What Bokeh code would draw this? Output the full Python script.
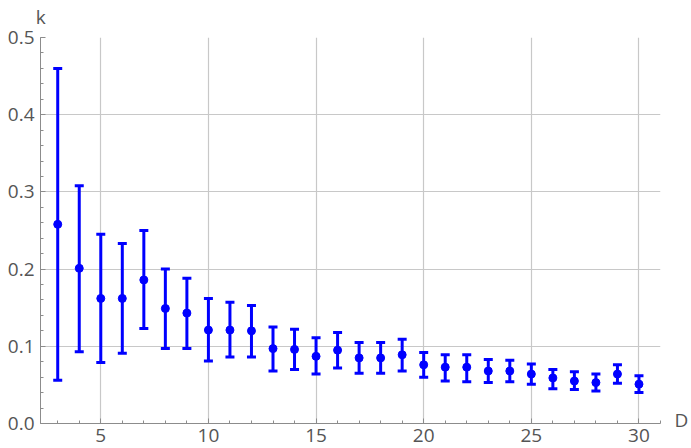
from bokeh.plotting import figure
from bokeh.models import (ColumnDataSource, Whisker, TeeHead, Range1d,
                          LinearAxis, FixedTicker, SingleIntervalTicker,
                          PrintfTickFormatter)
from bokeh.embed import file_html
from bokeh.resources import INLINE

# Dimension D and fitted k with lower / upper error bounds
D = list(range(3, 31))
k = [0.258, 0.201, 0.162, 0.162, 0.186, 0.149, 0.143, 0.121, 0.121, 0.120,
     0.097, 0.096, 0.087, 0.095, 0.085, 0.085, 0.089, 0.076, 0.073, 0.073,
     0.068, 0.068, 0.064, 0.059, 0.055, 0.053, 0.064, 0.051]
k_low = [0.056, 0.093, 0.079, 0.091, 0.123, 0.097, 0.097, 0.081, 0.086, 0.086,
         0.068, 0.070, 0.064, 0.072, 0.065, 0.065, 0.068, 0.060, 0.055, 0.054,
         0.053, 0.054, 0.051, 0.045, 0.044, 0.042, 0.052, 0.040]
k_high = [0.460, 0.308, 0.245, 0.233, 0.250, 0.200, 0.188, 0.162, 0.157, 0.153,
          0.125, 0.122, 0.111, 0.118, 0.105, 0.105, 0.109, 0.092, 0.089, 0.089,
          0.083, 0.082, 0.077, 0.070, 0.067, 0.064, 0.076, 0.062]

X_START, X_END = 2.2, 31.0

src = ColumnDataSource(dict(D=D, k=k, lo=k_low, hi=k_high))

BLUE = "#0000ff"
GRID = "#c8c8c8"
AXIS = "#8c8c8c"
TEXT = "#555555"
FONT = "Open Sans"
FSIZE = "19px"

p = figure(width=691, height=448, output_backend="svg", toolbar_location=None,
           x_range=Range1d(X_START, X_END), y_range=Range1d(0.0, 0.5),
           min_border_left=40, min_border_right=30, min_border_top=37,
           min_border_bottom=25, outline_line_color=None)

# error bars with flat caps
p.add_layout(Whisker(base="D", lower="lo", upper="hi", source=src,
                     dimension="height", line_color=BLUE, line_width=3,
                     lower_head=TeeHead(size=9, line_color=BLUE, line_width=3),
                     upper_head=TeeHead(size=9, line_color=BLUE, line_width=3)))
p.scatter("D", "k", source=src, size=8, color=BLUE)

# axes
p.xaxis.ticker = SingleIntervalTicker(interval=5, num_minor_ticks=5)
p.yaxis.ticker = SingleIntervalTicker(interval=0.1, num_minor_ticks=5)
p.yaxis.formatter = PrintfTickFormatter(format="%.1f")
for ax in (p.xaxis[0], p.yaxis[0]):
    ax.axis_line_color = AXIS
    ax.major_tick_line_color = AXIS
    ax.minor_tick_line_color = AXIS
    ax.major_tick_in = 5
    ax.major_tick_out = 0
    ax.minor_tick_in = 3
    ax.minor_tick_out = 0
    ax.major_label_text_color = TEXT
    ax.major_label_text_font = FONT
    ax.major_label_text_font_size = FSIZE
p.xaxis.major_label_standoff = 5
p.yaxis.major_label_standoff = 6

p.xgrid.grid_line_color = GRID
p.ygrid.grid_line_color = GRID
p.xgrid.grid_line_width = 1.2
p.ygrid.grid_line_width = 1.2


def name_axis(tick, text, standoff):
    # a bare axis that only carries one text label at a fixed tick
    ax = LinearAxis(ticker=FixedTicker(ticks=[tick], minor_ticks=[]),
                    major_label_overrides={tick: text},
                    axis_line_color=None, major_tick_line_color=None,
                    minor_tick_line_color=None, major_tick_in=0,
                    major_tick_out=0, minor_tick_in=0, minor_tick_out=0,
                    major_label_standoff=standoff,
                    major_label_text_color=TEXT, major_label_text_font=FONT,
                    major_label_text_font_size=FSIZE)
    ax.major_label_text_line_height = 0.6
    return ax


# "k" above the vertical axis, "D" at the right end of the horizontal axis
p.add_layout(name_axis(X_START + 0.01, "k", 8), "above")
p.add_layout(name_axis(0.004, "D", 14), "right")

open("out.html", "w").write(file_html(p, INLINE))
